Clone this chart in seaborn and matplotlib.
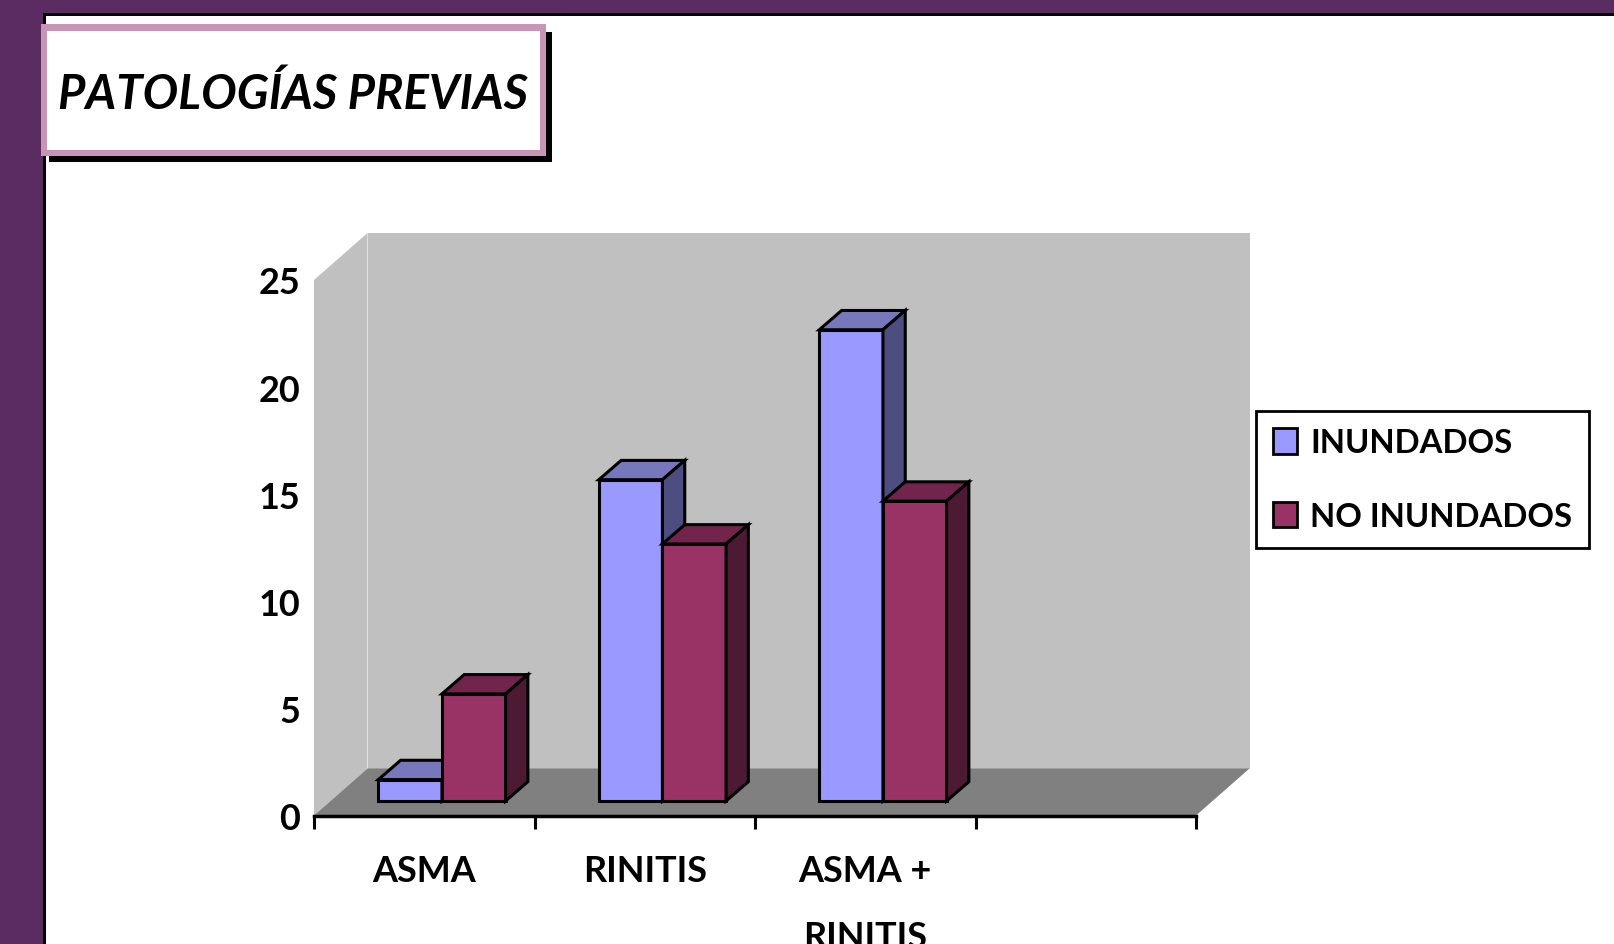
import pandas as pd
import matplotlib
matplotlib.use('Agg')
import matplotlib.pyplot as plt
import seaborn as sns
from matplotlib.font_manager import FontProperties
from matplotlib.patches import Polygon, Rectangle, Patch
from matplotlib.textpath import TextPath
from matplotlib.transforms import IdentityTransform, ScaledTranslation

# datos
categorias = ['ASMA', 'RINITIS', 'ASMA +\nRINITIS', '']
grupos = ['INUNDADOS', 'NO INUNDADOS']
inundados = [1, 15, 22]
no_inundados = [5, 12, 14]
y_ticks = [0, 5, 10, 15, 20, 25]
titulo = 'PATOLOGÍAS PREVIAS'

colores = {'INUNDADOS': '#9999FF', 'NO INUNDADOS': '#993366'}
colores_top = {'INUNDADOS': '#7777BB', 'NO INUNDADOS': '#73244D'}
colores_lado = {'INUNDADOS': '#4D4D80', 'NO INUNDADOS': '#4D1A33'}

df = pd.DataFrame({
    'patologia': categorias[:3] * 2,
    'grupo': [grupos[0]] * 3 + [grupos[1]] * 3,
    'casos': inundados + no_inundados,
})

sns.set_theme(style='white')
fuente = 'Lato'
plt.rcParams['font.family'] = [fuente, 'DejaVu Sans']
plt.rcParams['text.color'] = 'black'

W, H, DPI = 1614, 945, 100


def tam(texto, ancho_px, **kw):
    # tamaño (pt) para que el texto ocupe ancho_px de tinta
    fp = FontProperties(family=fuente, **kw)
    w = TextPath((0, 0), texto, size=100, prop=fp).get_extents().width
    return 100 * ancho_px * 72 / DPI / w


t_titulo = tam(titulo, 468, weight='bold', style='italic')
t_ejes = tam('RINITIS', 120, weight='bold')
t_leyenda = tam('NO INUNDADOS', 258, weight='bold')
em_ejes = t_ejes * DPI / 72
em_ley = t_leyenda * DPI / 72
em_tit = t_titulo * DPI / 72

fig = plt.figure(figsize=(W / DPI, H / DPI), dpi=DPI)
fig.patch.set_facecolor('white')


def rect_px(x0, y0, x1, y1, **kw):
    # rectangulo en pixeles de la imagen (y hacia abajo)
    return Rectangle((x0, H - y1), x1 - x0, y1 - y0, transform=IdentityTransform(), **kw)


# marco morado de la diapositiva
fig.add_artist(rect_px(0, 0, 43, H, color='#5B2C62', lw=0))
fig.add_artist(rect_px(0, 0, W, 14, color='#5B2C62', lw=0))
fig.add_artist(rect_px(43, 14, W, 17, color='black', lw=0))
fig.add_artist(rect_px(43, 14, 46, H, color='black', lw=0))

# caja del titulo
fig.add_artist(rect_px(49, 33, 552, 163, color='black', lw=0))
fig.add_artist(rect_px(41, 25, 546, 157, color='#C896B4', lw=0))
fig.add_artist(rect_px(47, 32, 540, 151, color='white', lw=0))
base_tit = 91.5 + 0.36 * em_tit
fig.text(58 / W, 1 - base_tit / H, titulo, fontsize=t_titulo, fontweight='bold',
         fontstyle='italic', va='baseline', ha='left', color='black')

# ejes = plano frontal del grafico 3D
ax = fig.add_axes([314 / W, 1 - 816.5 / H, (1196 - 314) / W, (816.5 - 281) / H])
ax.set_facecolor('none')

sns.barplot(data=df, x='patologia', y='casos', hue='grupo', order=categorias, hue_order=grupos,
            palette=colores, width=0.577, gap=0, saturation=1, edgecolor='black', linewidth=2.2,
            legend=False, ax=ax)
ax.set_xlim(-0.5, 3.5)
ax.set_ylim(0, 25)

# profundidad (pixeles)
prof_x, prof_y = 53.5, 47        # pared del fondo
barra_x, barra_y = 17.7, 14.5    # posicion de las barras
cara_x, cara_y = 22.3, 19.3      # grosor de las barras


def px(tr, pts):
    return tr.transform(pts)


fl, fr, tr_, tl = px(ax.transAxes, [(0, 0), (1, 0), (1, 1), (0, 1)])
d = (prof_x, prof_y)
pared = [fl + d, fr + d, tr_ + d, tl + d]
izq = [tl, tl + d, fl + d, fl]
suelo = [fl, fr, fr + d, fl + d]
for poly, col in [(pared, '#C0C0C0'), (izq, '#C0C0C0'), (suelo, '#808080')]:
    ax.add_patch(Polygon(poly, closed=True, transform=IdentityTransform(), facecolor=col,
                         edgecolor='none', zorder=0.5, clip_on=False))

desplaza = ax.transData + ScaledTranslation(barra_x / DPI, barra_y / DPI, fig.dpi_scale_trans)
for z, (cont, grupo) in enumerate(zip(ax.containers, grupos)):
    for bar in cont:
        bar.set_transform(desplaza)
        bar.set_clip_on(False)
        bar.set_zorder(3 + z)
        x0, w, h = bar.get_x(), bar.get_width(), bar.get_height()
        a, b, c = px(desplaza, [(x0, h), (x0 + w, h), (x0 + w, 0)])
        e = (cara_x, cara_y)
        top = [a, b, b + e, a + e]
        lado = [c, b, b + e, c + e]
        for poly, col in [(top, colores_top[grupo]), (lado, colores_lado[grupo])]:
            ax.add_patch(Polygon(poly, closed=True, transform=IdentityTransform(), facecolor=col,
                                 edgecolor='black', linewidth=2.2, joinstyle='miter',
                                 zorder=3 + z, clip_on=False))

# ejes y etiquetas
for s in ['left', 'top', 'right']:
    ax.spines[s].set_visible(False)
ax.spines['bottom'].set_color('black')
ax.spines['bottom'].set_linewidth(2.5)
ax.spines['bottom'].set_zorder(6)
ax.set_xticks([0, 1, 2, 3])
ax.set_xticklabels(categorias, fontsize=t_ejes, fontweight='bold',
                   linespacing=72 / (0.9 * em_ejes))
ax.set_xticks([-0.5, 0.5, 1.5, 2.5, 3.5], minor=True)
ax.tick_params(axis='x', which='major', length=0, pad=28, colors='black')
ax.tick_params(axis='x', which='minor', bottom=True, length=9, width=2.2, color='black',
               direction='out')
ax.set_yticks(y_ticks)
ax.set_yticklabels([str(v) for v in y_ticks], fontsize=t_ejes, fontweight='bold')
ax.tick_params(axis='y', length=0, pad=10, colors='black')
ax.set_xlabel('')
ax.set_ylabel('')
ax.grid(False)

# leyenda
manejadores = [Patch(facecolor=colores[g], edgecolor='black', linewidth=2, label=g) for g in grupos]
leg = ax.legend(handles=manejadores, loc='upper left', bbox_to_anchor=(1256 / W, 1 - 412 / H),
                bbox_transform=fig.transFigure, prop={'weight': 'bold', 'size': t_leyenda},
                labelcolor='black', frameon=True, fancybox=False, framealpha=1,
                edgecolor='black', handlelength=24 / em_ley, handleheight=27 / em_ley,
                handletextpad=13 / em_ley, borderpad=17 / em_ley,
                labelspacing=(84 - 1.2 * em_ley) / em_ley, borderaxespad=0)
leg.get_frame().set_linewidth(2)

fig.savefig('out.png', dpi=DPI)
